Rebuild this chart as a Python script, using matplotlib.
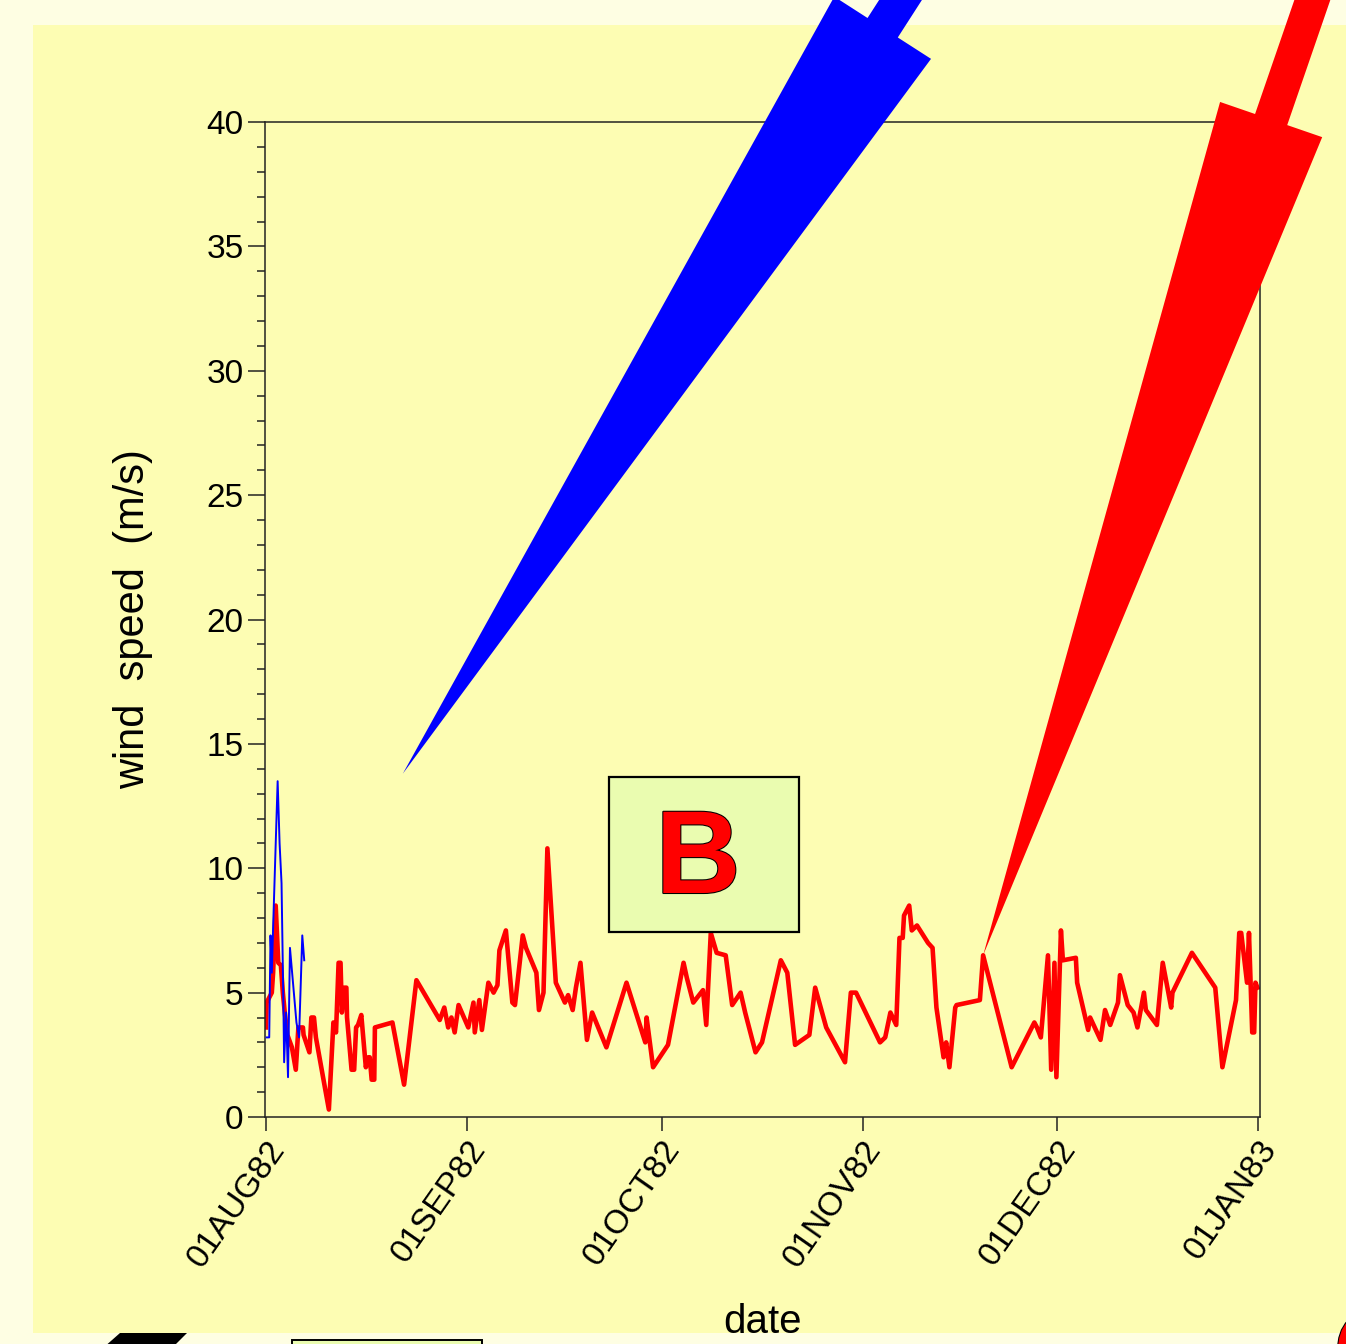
import numpy as np
import matplotlib.pyplot as plt
import matplotlib.dates as mdates
import matplotlib.patheffects as pe
from matplotlib.patches import Rectangle, FancyArrow, Polygon
from matplotlib.ticker import MultipleLocator
from datetime import datetime

plt.rcParams['font.family'] = ['Liberation Sans', 'DejaVu Sans']

W, H = 1346, 1344

# wind speed (m/s) against days since 01AUG82
red_days = [0.0, 0.1, 0.9, 1.1, 1.5, 1.9, 2.3, 2.6, 2.9, 3.3, 4.0, 4.6, 5.0, 5.7,
            5.8, 6.7, 7.0, 7.4, 7.7, 9.7, 10.4, 10.8, 11.2, 11.5, 11.7, 12.1, 12.4,
            12.5, 13.2, 13.6, 13.9, 14.2, 14.7, 15.4, 15.8, 16.0, 16.3, 16.7, 16.8,
            19.5, 21.3, 23.2, 26.8, 27.5, 28.1, 28.6, 29.1, 29.7, 31.2, 32.0, 32.2,
            32.9, 33.3, 34.3, 35.1, 35.7, 36.0, 37.0, 38.0, 38.4, 39.6, 40.1, 41.7,
            42.1, 42.8, 43.4, 44.7, 46.1, 46.6, 47.3, 47.8, 48.5, 49.5, 50.3, 52.5,
            55.6, 58.5, 58.7, 59.3, 59.7, 62.0, 64.4, 64.9, 65.9, 67.4, 67.9, 68.6,
            69.5, 70.9, 71.9, 73.2, 73.9, 75.5, 76.5, 79.4, 80.4, 81.6, 83.8, 84.7,
            86.4, 89.3, 90.2, 91.0, 94.7, 95.5, 96.3, 97.2, 97.7, 98.2, 98.4, 99.2,
            99.6, 100.4, 102.1, 102.8, 103.4, 104.5, 104.9, 105.4, 106.3, 106.5,
            110.1, 110.6, 115.0, 118.5, 118.9, 119.5, 120.6, 121.1, 121.6, 121.9,
            122.6, 122.9, 124.9, 125.1, 126.8, 127.1, 128.7, 129.4, 130.2, 131.4,
            131.7, 132.9, 133.8, 134.4, 135.4, 135.7, 137.4, 138.3, 139.6, 139.8,
            142.8, 146.4, 147.5, 149.6, 150.1, 150.4, 151.3, 151.6, 152.1, 152.4,
            152.6, 152.9]
red_speed = [3.6, 4.6, 5.0, 5.8, 8.5, 6.2, 6.1, 5.0, 4.2, 3.3, 2.8, 1.9, 3.6, 3.6,
             3.3, 2.6, 4.0, 4.0, 3.2, 0.3, 3.8, 3.4, 6.2, 6.2, 4.2, 5.2, 5.2,
             4.0, 1.9, 1.9, 3.6, 3.7, 4.1, 2.0, 2.4, 2.4, 1.5, 1.5, 3.6,
             3.8, 1.3, 5.5, 3.9, 4.4, 3.6, 4.0, 3.4, 4.5, 3.6, 4.6, 3.4,
             4.7, 3.5, 5.4, 5.0, 5.3, 6.7, 7.5, 4.6, 4.5, 7.3, 6.8, 5.8,
             4.3, 5.0, 10.8, 5.4, 4.6, 4.9, 4.3, 5.2, 6.2, 3.1, 4.2, 2.8,
             5.4, 3.0, 4.0, 2.8, 2.0, 2.9, 6.2, 5.6, 4.6, 5.1, 3.7, 7.4,
             6.6, 6.5, 4.5, 5.0, 4.2, 2.6, 3.0, 6.3, 5.8, 2.9, 3.3, 5.2,
             3.6, 2.2, 5.0, 5.0, 3.0, 3.2, 4.2, 3.7, 7.2, 7.2, 8.1, 8.5,
             7.5, 7.7, 7.0, 6.8, 4.4, 2.4, 3.0, 2.0, 4.4, 4.5,
             4.7, 6.5, 2.0, 3.8, 3.6, 3.2, 6.5, 1.9, 6.2, 1.6,
             7.5, 6.3, 6.4, 5.4, 3.5, 4.0, 3.1, 4.3, 3.7, 4.6,
             5.7, 4.5, 4.2, 3.6, 5.0, 4.3, 3.7, 6.2, 4.4, 5.0,
             6.6, 5.2, 2.0, 4.7, 7.4, 7.4, 5.4, 7.4, 3.4, 3.4,
             5.4, 5.2]
blue_days = [0.1, 0.5, 0.7, 0.9, 1.1, 1.8, 2.1, 2.4, 2.7, 2.8, 3.1, 3.4, 3.7,
             4.7, 5.1, 5.6, 5.9]
blue_speed = [3.2, 3.2, 7.3, 5.8, 7.6, 13.5, 11.0, 9.4, 4.3, 2.2, 4.2, 1.6, 6.8,
              3.8, 3.2, 7.3, 6.3]

month_starts = [datetime(1982, 8, 1), datetime(1982, 9, 1), datetime(1982, 10, 1),
                datetime(1982, 11, 1), datetime(1982, 12, 1), datetime(1983, 1, 1)]
y_ticks = [0, 5, 10, 15, 20, 25, 30, 35, 40]

# arrow tips: a free point, and the red reading of 20NOV82
blue_tip = (21.1, 13.8)
red_tip_day = 110.6

t0 = mdates.date2num(datetime(1982, 8, 1))
red_x = t0 + np.array(red_days)
blue_x = t0 + np.array(blue_days)

fig = plt.figure(figsize=(W / 100, H / 100), dpi=100)
fig.patch.set_facecolor('#FEFEE3')

# background panel (pixel coordinates, y down)
bg = fig.add_axes([0, 0, 1, 1], zorder=0)
bg.set_xlim(0, W)
bg.set_ylim(H, 0)
bg.axis('off')
bg.add_patch(Rectangle((33, 25), W, 1308, facecolor='#FDFDB3', edgecolor='none'))
# bits of the neighbouring panel peeking in at the bottom
bg.add_patch(Polygon([(120, 1333), (187, 1333), (172, 1348), (103, 1348)],
                     facecolor='black', edgecolor='none'))
bg.add_patch(Rectangle((292, 1340), 190, 20, facecolor='#EAFCB0',
                       edgecolor='black', lw=1.4))

# main plot
ax = fig.add_axes([265 / W, 1 - 1117 / H, 995 / W, 995 / H], zorder=1)
ax.patch.set_alpha(0)
ax.plot(red_x, red_speed, color='red', lw=3.3, zorder=2)
ax.plot(blue_x, blue_speed, color='blue', lw=1.4, zorder=3)

ax.set_xlim(t0 - 0.15, t0 + 153.3)
ax.set_ylim(0, 40)

ax.set_xticks([mdates.date2num(d) for d in month_starts])
ax.set_xticklabels([d.strftime('%d%b%y').upper() for d in month_starts],
                   rotation=55, ha='right', va='top', rotation_mode='anchor')
ax.set_yticks(y_ticks)
ax.yaxis.set_minor_locator(MultipleLocator(1))
ax.tick_params(axis='x', direction='out', length=10, width=1.1, pad=3,
               labelsize=24, colors='#222222')
ax.tick_params(axis='y', which='major', direction='out', length=12, width=1.1,
               pad=3.5, labelsize=24, colors='#222222')
ax.tick_params(axis='y', which='minor', direction='out', length=5.8, width=1.1,
               colors='#222222')
ax.tick_params(labelcolor='black')
for s in ax.spines.values():
    s.set_color('#222222')
    s.set_linewidth(1.1)

ax.set_ylabel('wind  speed  (m/s)', fontsize=30)
ax.yaxis.set_label_coords(-0.112, 0.5)
ax.set_xlabel('date', fontsize=29)
ax.xaxis.set_label_coords(0.5, -0.187)

# overlay: annotation arrows and the label box
ov = fig.add_axes([0, 0, 1, 1], zorder=3)
ov.set_xlim(0, W)
ov.set_ylim(H, 0)
ov.axis('off')
ov.patch.set_alpha(0)


def to_px(x, y):
    dx, dy = ax.transData.transform((x, y))
    return np.array([dx, H - dy])


def wedge(tip, direction, color, head_len, head_w, shaft_w):
    u = np.array(direction, float)
    u /= np.hypot(*u)
    tail = tip + u * 1400
    ov.add_patch(FancyArrow(tail[0], tail[1], tip[0] - tail[0], tip[1] - tail[1],
                            width=shaft_w, head_width=head_w, head_length=head_len,
                            length_includes_head=True, facecolor=color,
                            edgecolor='none'))


wedge(to_px(t0 + blue_tip[0], blue_tip[1]), (0.541, -0.841), 'blue', 887, 115, 36)
i = red_days.index(red_tip_day)
wedge(to_px(red_x[i], red_speed[i]), (0.326, -0.946), 'red', 884, 108, 34)

ov.add_patch(Rectangle((609, 777), 190, 155, facecolor='#EAFCB0',
                       edgecolor='black', lw=1.6))
stroke = [pe.withStroke(linewidth=1.5, foreground='black')]
ov.text(698, 893, 'B', fontsize=85, fontweight='bold', color='red',
        ha='center', va='baseline', path_effects=stroke)
ov.text(1333, 1362, 'C', fontsize=85, fontweight='bold', color='red',
        ha='left', va='center', path_effects=stroke)

fig.savefig('out.png', dpi=100, facecolor=fig.get_facecolor())
